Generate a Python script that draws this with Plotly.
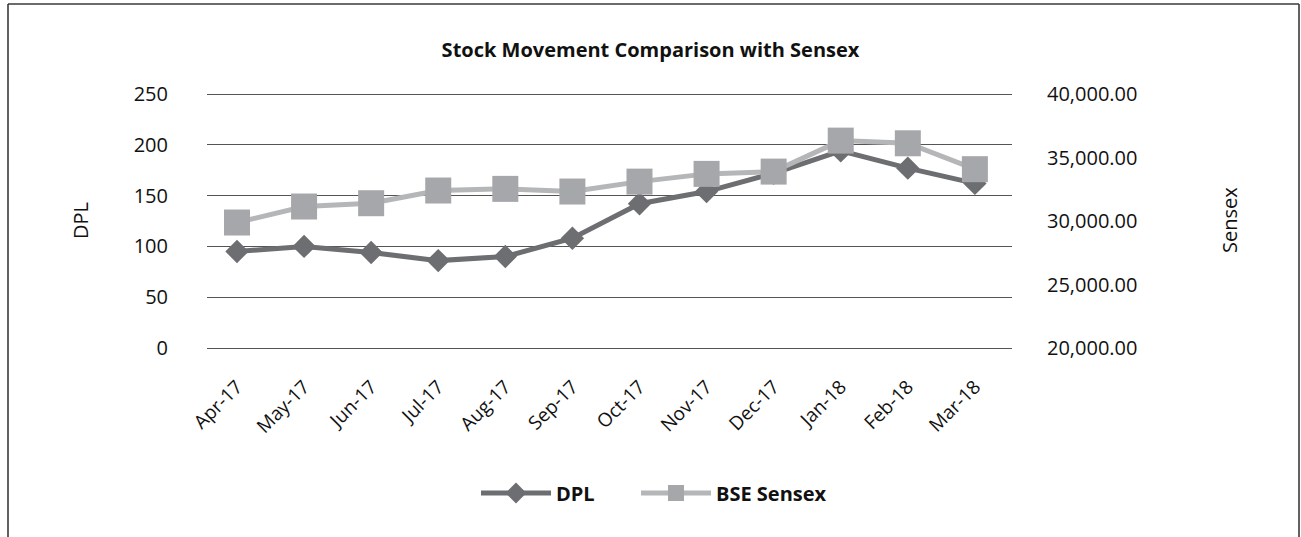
import plotly.graph_objects as go

months = ["Apr-17", "May-17", "Jun-17", "Jul-17", "Aug-17", "Sep-17",
          "Oct-17", "Nov-17", "Dec-17", "Jan-18", "Feb-18", "Mar-18"]
dpl = [95, 100, 94, 86, 90, 108, 142, 154, 172, 194, 177, 162]
sensex = [29880, 31140, 31400, 32400, 32530, 32320, 33100, 33710, 33890, 36330, 36120, 34080]

left_ticks = [0, 50, 100, 150, 200, 250]
right_ticks = [20000, 25000, 30000, 35000, 40000]

FONT = "Open Sans"
DARK = "#6d6e71"
LIGHT_M = "#a6a7aa"
LIGHT_L = "#b5b6b8"

fig = go.Figure()
fig.add_trace(go.Scatter(
    x=months, y=dpl, name="DPL", mode="lines+markers",
    line=dict(color=DARK, width=5),
    marker=dict(symbol="diamond", size=18, color=DARK),
    yaxis="y", legend="legend",
))
fig.add_trace(go.Scatter(
    x=months, y=sensex, name="BSE Sensex", mode="lines+markers",
    line=dict(color=LIGHT_L, width=5),
    marker=dict(symbol="square", size=26, color=LIGHT_M),
    yaxis="y2", legend="legend2",
))

# plot area geometry (pixels) used only for layout placement;
# 2px of padding top and bottom so the 0 and 250 gridlines are drawn
EXT = 2
L, R, T, B = 207, 1012, 94 - EXT, 348 + EXT
W, H = 1301, 537
pw, ph = R - L, B - T
upp = 250 / 254          # DPL units per pixel
pad = EXT * upp
pad2 = pad * (20000 / 250)

def px(xp):
    return (xp - L) / pw

def py(yp):
    return (B - yp) / ph

legend_font = dict(family=FONT, size=20, color="#111", weight="bold")

fig.update_layout(
    width=W, height=H,
    margin=dict(l=L, r=W - R, t=T, b=H - B, autoexpand=False),
    paper_bgcolor="white", plot_bgcolor="white",
    font=dict(family=FONT, size=20, color="#111"),
    title=dict(text="<b>Stock Movement Comparison with Sensex</b>",
               x=0.5, xref="container", xanchor="center",
               y=1 - 50 / H, yref="container", yanchor="middle",
               font=dict(family=FONT, size=20, color="#111")),
    xaxis=dict(type="category", categoryorder="array", categoryarray=months,
               range=[-0.447, 11.553], showgrid=False, zeroline=False,
               showline=False, ticks="", tickangle=-45,
               tickfont=dict(family=FONT, size=19, color="#111"),
               ticklabelstandoff=21),
    yaxis=dict(range=[-pad, 250 + pad], tickvals=left_ticks, showgrid=True,
               gridcolor="#555555", gridwidth=1.2, zeroline=False,
               showline=False, ticks="", ticklabelstandoff=38,
               tickfont=dict(family=FONT, size=20, color="#111")),
    yaxis2=dict(range=[20000 - pad2, 40000 + pad2], tickvals=right_ticks,
                overlaying="y", side="right", tickformat=",.2f",
                showgrid=False, zeroline=False, showline=False, ticks="",
                ticklabelstandoff=34,
                tickfont=dict(family=FONT, size=20, color="#111")),
    legend=dict(orientation="h", x=px(476), y=py(493), xanchor="left",
                yanchor="middle", itemwidth=70, font=legend_font,
                bgcolor="rgba(0,0,0,0)"),
    legend2=dict(orientation="h", x=px(636), y=py(493), xanchor="left",
                 yanchor="middle", itemwidth=70, font=legend_font,
                 bgcolor="rgba(0,0,0,0)"),
    showlegend=True,
)

fig.add_annotation(text="DPL", x=px(80), y=py(220), xref="paper", yref="paper",
                   xanchor="center", yanchor="middle",
                   textangle=-90, showarrow=False,
                   font=dict(family=FONT, size=20, color="#111"))
fig.add_annotation(text="Sensex", x=px(1229), y=py(220), xref="paper", yref="paper",
                   xanchor="center", yanchor="middle",
                   textangle=-90, showarrow=False,
                   font=dict(family=FONT, size=20, color="#111"))

# outer frame (open at bottom, as cropped in the reference)
frame = dict(color="#3a3a3a", width=1.6)
fig.add_shape(type="line", xref="paper", yref="paper",
              x0=px(8), x1=px(8), y0=py(4), y1=py(540), line=frame)
fig.add_shape(type="line", xref="paper", yref="paper",
              x0=px(8), x1=px(1299), y0=py(4), y1=py(4), line=frame)
fig.add_shape(type="line", xref="paper", yref="paper",
              x0=px(1299), x1=px(1299), y0=py(4), y1=py(540), line=frame)

fig.write_html(
    "out.html",
    config={"displayModeBar": False},
    post_script="document.body.style.margin='0';document.body.style.overflow='hidden';",
)
